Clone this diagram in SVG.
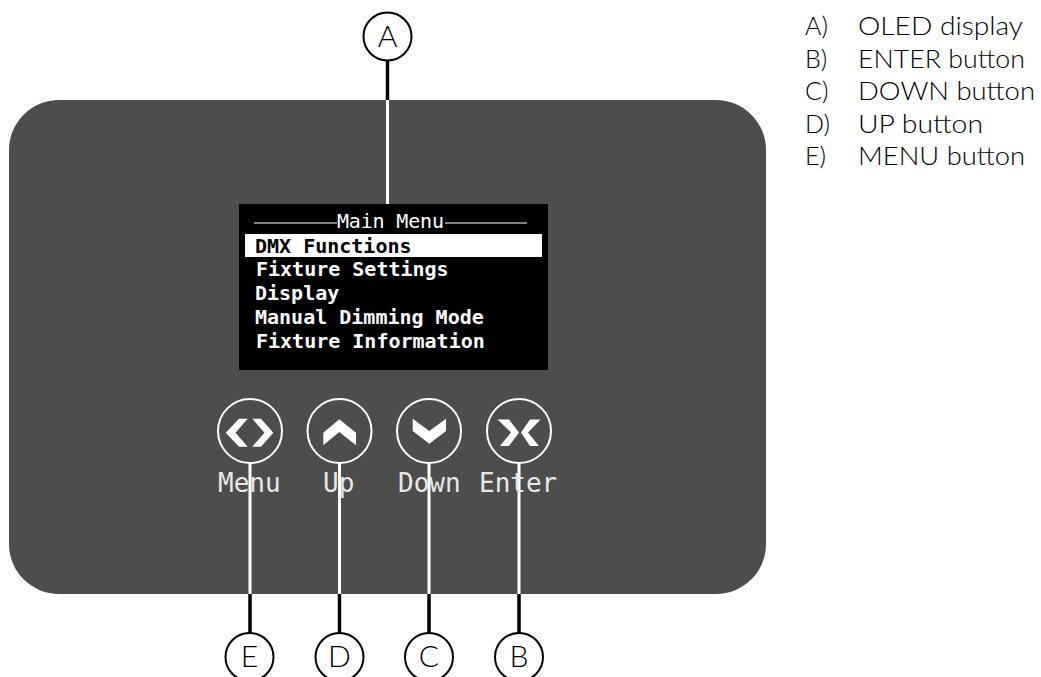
<svg xmlns="http://www.w3.org/2000/svg" width="1041" height="677" viewBox="0 0 1041 677">
<style>
.scr{font-family:"DejaVu Sans Mono","Liberation Mono",monospace;font-size:20px;font-weight:700;fill:#fff}
.lab{font-family:"DejaVu Sans Mono","Liberation Mono",monospace;font-size:26px;fill:#e8e8e8}
.sans{font-family:"Lato","Open Sans",sans-serif;font-size:25px;font-weight:300;fill:#000}
.cl{font-family:"Lato","Open Sans",sans-serif;font-size:30px;font-weight:300;fill:#000;text-anchor:middle}
.call{fill:#fff;stroke:#000;stroke-width:2}
.btn{fill:none;stroke:#fff;stroke-width:2}
.w{stroke:#fff;stroke-width:3;fill:none}
.k{stroke:#000;stroke-width:3.500;fill:none}
.g{fill:#fff}
</style>
<rect width="1041" height="677" fill="#fff"/>
<rect id="panel" x="9" y="100" width="757" height="494" rx="50" ry="50" fill="#4d4d4d"/>
<g id="display">
<rect x="239" y="204" width="309" height="166" fill="#000"/>
<rect x="245" y="234" width="297" height="23" fill="#fff"/>
<text x="337" y="228" font-family="DejaVu Sans Mono,monospace" font-size="20" fill="#fff" textLength="107">Main Menu</text>
<path d="M254 223H337M445 223H527" stroke="#fff" stroke-width="1"/>
<text class="scr" x="255" y="253" style="fill:#000">DMX Functions</text>
<text class="scr" x="256" y="276">Fixture Settings</text>
<text class="scr" x="255" y="300">Display</text>
<text class="scr" x="255" y="324">Manual Dimming Mode</text>
<text class="scr" x="256" y="348">Fixture Information</text>
</g>
<g id="connectors">
<path class="w" d="M387.500 100V204M250 463V594M339.500 463V594M429 463V594M519 463V594"/>
<path class="k" d="M387.500 60V100M250 594V633M339.500 594V633M429 594V633M519 594V633"/>
</g>
<g id="btn-menu">
<circle class="btn" cx="250" cy="431" r="32"/>
<path class="g" d="M239 418.700H247.700L235.500 432.700L247.700 446.700H239L225.700 432.700ZM261 418.700H252.300L264.500 432.700L252.300 446.700H261L273.300 432.700Z"/>
<text class="lab" x="218" y="492">Menu</text>
</g>
<g id="btn-up">
<circle class="btn" cx="339.500" cy="431" r="32"/>
<path class="g" d="M323.300 432.700L339.300 419.300L356 432.700V445.300L339.300 432L323.300 445.300Z"/>
<text class="lab" x="323" y="492">Up</text>
</g>
<g id="btn-down">
<circle class="btn" cx="429" cy="431" r="32"/>
<path class="g" d="M412.700 418.700L429.300 431L446 418.700V431L429.300 443.700L412.700 431Z"/>
<text class="lab" x="398" y="492">Down</text>
</g>
<g id="btn-enter">
<circle class="btn" cx="519" cy="431" r="32"/>
<path class="g" d="M497.500 419.500H509L519 432.500L509 446H500L511 432.500ZM540.500 419.500H530L521 432.500L530 446H539L528 432.500Z"/>
<text class="lab" x="479" y="492">Enter</text>
</g>
<g id="callout-a"><circle class="call" cx="387.500" cy="36.500" r="24"/><text class="cl" x="387.500" y="47">A</text></g>
<g id="callout-e"><circle class="call" cx="249.500" cy="657" r="24"/><text class="cl" x="249.500" y="667">E</text></g>
<g id="callout-d"><circle class="call" cx="339.500" cy="657" r="24"/><text class="cl" x="339.500" y="667">D</text></g>
<g id="callout-c"><circle class="call" cx="429" cy="657" r="24"/><text class="cl" x="429" y="667">C</text></g>
<g id="callout-b"><circle class="call" cx="519" cy="657" r="24"/><text class="cl" x="519" y="667">B</text></g>
<g id="legend">
<text class="sans" x="805" y="35">A)</text><text class="sans" x="858" y="35" textLength="165" lengthAdjust="spacingAndGlyphs">OLED display</text>
<text class="sans" x="805" y="68">B)</text><text class="sans" x="858" y="68" textLength="167" lengthAdjust="spacingAndGlyphs">ENTER button</text>
<text class="sans" x="805" y="100">C)</text><text class="sans" x="858" y="100" textLength="177" lengthAdjust="spacingAndGlyphs">DOWN button</text>
<text class="sans" x="805" y="133">D)</text><text class="sans" x="858" y="133" textLength="125" lengthAdjust="spacingAndGlyphs">UP button</text>
<text class="sans" x="805" y="165">E)</text><text class="sans" x="858" y="165" textLength="167" lengthAdjust="spacingAndGlyphs">MENU button</text>
</g>
</svg>
